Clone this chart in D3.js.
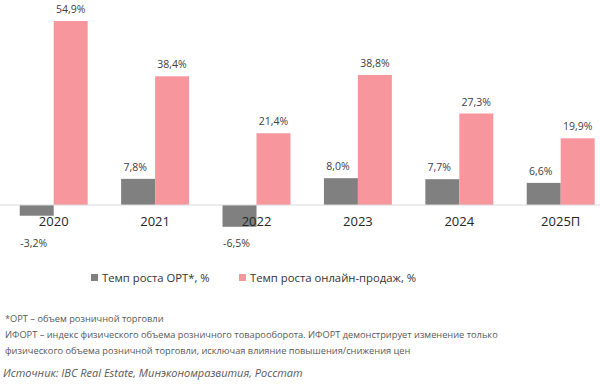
<!DOCTYPE html>
<html>
<head>
<meta charset="utf-8">
<script src="https://cdn.jsdelivr.net/npm/d3@7"></script>
<style>
  html, body { margin: 0; padding: 0; background: #fff; }
  svg { display: block; font-family: "Open Sans", sans-serif; }
</style>
</head>
<body>
<div id="chart"></div>
<script>
  // data
  var years = ['2020', '2021', '2022', '2023', '2024', '2025П'];
  var ortGrowth = [-3.2, 7.8, -6.5, 8.0, 7.7, 6.6];
  var onlineGrowth = [54.9, 38.4, 21.4, 38.8, 27.3, 19.9];
  var seriesNames = ['Темп роста ОРТ*, %', 'Темп роста онлайн-продаж, %'];
  var footnotes = [
    '*ОРТ – объем розничной торговли',
    'ИФОРТ – индекс физического объема розничного товарооборота. ИФОРТ демонстрирует изменение только',
    'физического объема розничной торговли, исключая влияние повышения/снижения цен'
  ];
  var sourceText = 'Источник: IBC Real Estate, Минэкономразвития, Росстат';

  var W = 600, H = 390;
  var colors = ['#808080', '#f7969d'];
  var fmt = function (v) { return v.toFixed(1).replace('.', ',') + '%'; };

  var svg = d3.select('#chart').append('svg')
    .attr('width', W).attr('height', H);

  var x = d3.scaleBand().domain(years).range([3, 611.4])
    .paddingInner(0.33).paddingOuter(0.165);
  var xs = d3.scaleBand().domain([0, 1]).range([0, x.bandwidth()]);
  var y = d3.scaleLinear().domain([0, 54.9]).range([205, 21]);

  var rows = years.map(function (yr, i) {
    return { year: yr, vals: [ortGrowth[i], onlineGrowth[i]] };
  });

  var groups = svg.append('g').selectAll('g.grp')
    .data(rows).join('g')
    .attr('class', 'grp')
    .attr('transform', function (d) { return 'translate(' + x(d.year) + ',0)'; });

  groups.selectAll('rect')
    .data(function (d) { return d.vals.map(function (v, k) { return { v: v, k: k }; }); })
    .join('rect')
    .attr('x', function (d) { return xs(d.k); })
    .attr('width', xs.bandwidth())
    .attr('y', function (d) { return Math.min(y(d.v), y(0)); })
    .attr('height', function (d) { return Math.abs(y(d.v) - y(0)); })
    .attr('fill', function (d) { return colors[d.k]; });

  // baseline
  svg.append('line')
    .attr('x1', 0).attr('x2', W)
    .attr('y1', y(0)).attr('y2', y(0))
    .attr('stroke', '#d9d9d9').attr('stroke-width', 1);

  // value labels
  groups.selectAll('text.val')
    .data(function (d) { return d.vals.map(function (v, k) { return { v: v, k: k }; }); })
    .join('text')
    .attr('class', 'val')
    .attr('x', function (d) { return xs(d.k) + xs.bandwidth() / 2 - (d.k === 0 ? 3 : 0); })
    .attr('y', function (d) { return d.v < 0 ? 247 : y(d.v) - 8; })
    .attr('text-anchor', 'middle')
    .attr('font-size', 10.5)
    .attr('fill', '#404040')
    .text(function (d) { return fmt(d.v); });

  // year labels
  svg.append('g').selectAll('text')
    .data(years).join('text')
    .attr('x', function (d) { return x(d) + x.bandwidth() / 2; })
    .attr('y', 226)
    .attr('text-anchor', 'middle')
    .attr('font-size', 13)
    .attr('fill', '#262626')
    .text(function (d) { return d; });

  // legend
  var legX = [91, 239];
  var leg = svg.append('g').selectAll('g')
    .data(seriesNames).join('g')
    .attr('transform', function (d, i) { return 'translate(' + legX[i] + ',277)'; });
  leg.append('rect').attr('x', 0).attr('y', -3).attr('width', 7).attr('height', 7)
    .attr('fill', function (d, i) { return colors[i]; });
  leg.append('text').attr('x', 11).attr('y', 4.5)
    .attr('font-size', 11.3).attr('fill', '#333')
    .text(function (d) { return d; });

  // footnotes
  svg.append('g').selectAll('text')
    .data(footnotes).join('text')
    .attr('x', 5)
    .attr('y', function (d, i) { return 322 + i * 16; })
    .attr('font-size', 9.25)
    .attr('fill', '#595959')
    .text(function (d) { return d; });

  svg.append('text')
    .attr('x', 3).attr('y', 377)
    .attr('font-size', 11).attr('font-style', 'italic')
    .attr('fill', '#595959')
    .text(sourceText);
</script>
</body>
</html>
